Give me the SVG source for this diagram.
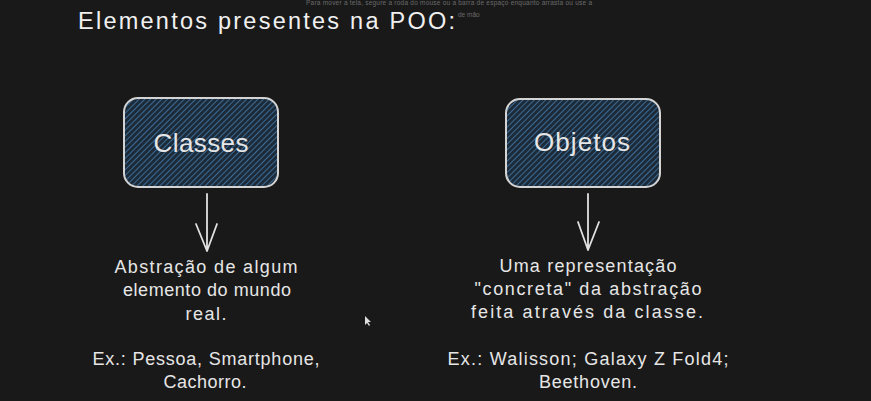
<svg xmlns="http://www.w3.org/2000/svg" width="871" height="401" viewBox="0 0 871 401">
<style>
  .t { font-family: "Liberation Sans", Arial, sans-serif; fill: #e6e6e6; }
  .title { font-size: 23.5px; fill: #f0f0f0; }
  .lbl { font-size: 26px; text-anchor: middle; }
  .body { font-size: 18px; text-anchor: middle; }
  .box { fill: url(#hach); stroke: #d4d4d4; stroke-width: 2; }
  .conn { stroke: #e0e0e0; stroke-width: 1.8; fill: none; stroke-linecap: round; stroke-linejoin: round; }
  .tip { font-family: "Liberation Sans", Arial, sans-serif; font-size: 6.5px; fill: #6a6a6a; }
</style>
<defs>
  <pattern id="hach" patternUnits="userSpaceOnUse" width="4" height="4" patternTransform="rotate(45)">
    <rect width="4" height="4" fill="#1c2b3a"/>
    <line x1="0" y1="0" x2="0" y2="4" stroke="#3e6a92" stroke-width="2"/>
  </pattern>
</defs>
<rect width="871" height="401" fill="#191919"/>
<g id="tooltip">
  <text class="tip" x="306" y="5" textLength="286">Para mover a tela, segure a roda do mouse ou a barra de espaço enquanto arrasta ou use a</text>
  <text class="tip" x="458" y="17">de mão</text>
</g>
<g id="title">
  <text class="t title" x="78" y="28.5" textLength="377">Elementos presentes na POO:</text>
</g>
<g id="node-classes">
  <rect class="box" x="124" y="98" width="154" height="89" rx="14"/>
  <text class="t lbl" x="201" y="152" textLength="95">Classes</text>
</g>
<g id="node-objetos">
  <rect class="box" x="506" y="99" width="154" height="88" rx="14"/>
  <text class="t lbl" x="582" y="151" textLength="96">Objetos</text>
</g>
<g id="connectors">
  <path class="conn" d="M207 194 L207 251 M196 224 L207 251 L217 224"/>
  <path class="conn" d="M588 194 L588 250 M578 222 L588 250 L599 222"/>
</g>
<g id="desc-classes">
  <text class="t body" x="206" y="273" textLength="183">Abstração de algum</text>
  <text class="t body" x="207" y="296" textLength="168">elemento do mundo</text>
  <text class="t body" x="206" y="320" textLength="41">real.</text>
  <text class="t body" x="206" y="365" textLength="227">Ex.: Pessoa, Smartphone,</text>
  <text class="t body" x="205" y="388" textLength="83">Cachorro.</text>
</g>
<g id="desc-objetos">
  <text class="t body" x="588" y="272" textLength="177">Uma representação</text>
  <text class="t body" x="588" y="295" textLength="227">"concreta" da abstração</text>
  <text class="t body" x="587" y="318" textLength="232">feita através da classe.</text>
  <text class="t body" x="588" y="365" textLength="281">Ex.: Walisson; Galaxy Z Fold4;</text>
  <text class="t body" x="588" y="388" textLength="98">Beethoven.</text>
</g>
<g id="cursor">
  <path d="M365 316 L365 325 L367 323 L369 326 L370 325 L368 322 L371 322 Z" fill="#dddddd"/>
</g>
</svg>
